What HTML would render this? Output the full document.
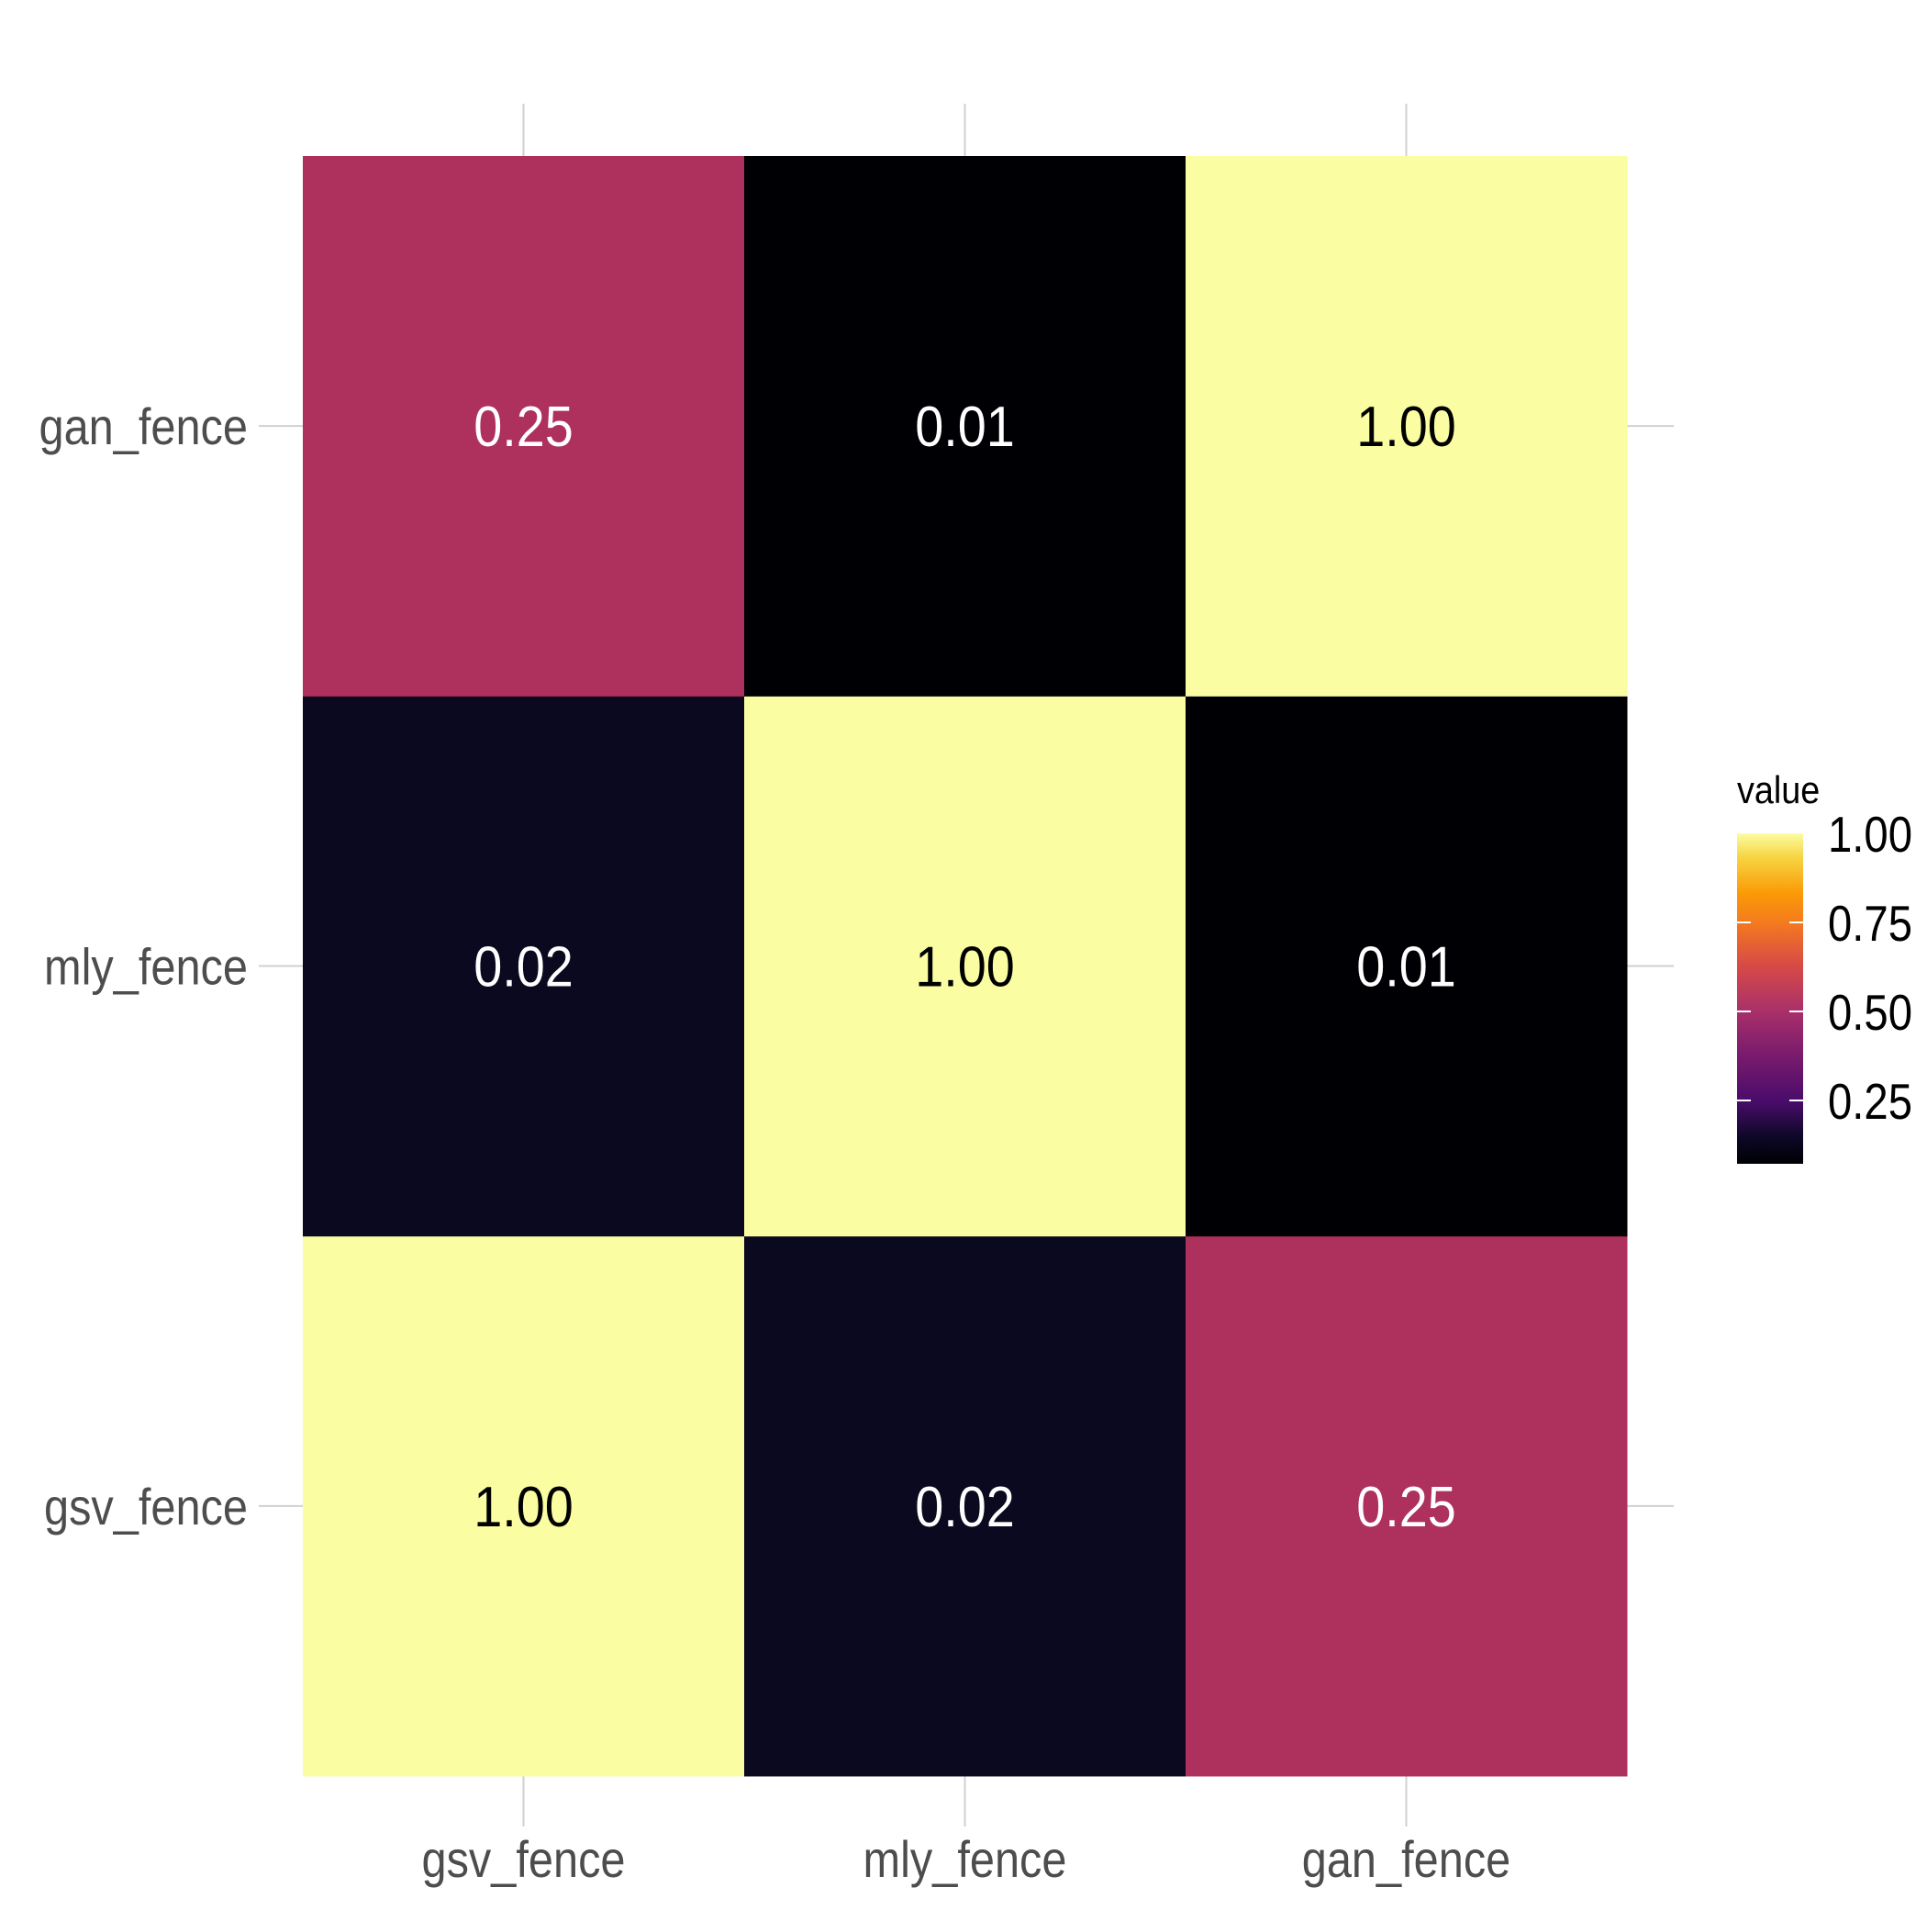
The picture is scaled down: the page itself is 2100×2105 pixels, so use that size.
<!DOCTYPE html>
<html><head><meta charset="utf-8"><style>
html,body{margin:0;padding:0;background:#fff;}
svg text{font-family:"Liberation Sans",sans-serif;}
</style></head><body>
<svg id="chart" width="2100" height="2100" viewBox="0 0 2100 2100" xmlns="http://www.w3.org/2000/svg">
<defs>
<linearGradient id="inferno" x1="0" y1="1" x2="0" y2="0">
<stop offset="0" stop-color="#000004"/>
<stop offset="0.08" stop-color="#0c0826"/>
<stop offset="0.19" stop-color="#4a0c6b"/>
<stop offset="0.33" stop-color="#7a1b6d"/>
<stop offset="0.46" stop-color="#a8306a"/>
<stop offset="0.6" stop-color="#d84a46"/>
<stop offset="0.73" stop-color="#f47a1e"/>
<stop offset="0.82" stop-color="#fb9b06"/>
<stop offset="0.93" stop-color="#f6d645"/>
<stop offset="1" stop-color="#fafda1"/>
</linearGradient>
</defs>
<g id="grid"></g>
<g id="cells"></g>
<g id="axes"></g>
<g id="legend"></g>
</svg>
<script>
const xCats = ["gsv_fence","mly_fence","gan_fence"];
const yCats = ["gsv_fence","mly_fence","gan_fence"]; // bottom to top
const values = [
  [1.00, 0.02, 0.25],
  [0.02, 1.00, 0.01],
  [0.25, 0.01, 1.00]
];
const labels = [
  ["1.00","0.02","0.25"],
  ["0.02","1.00","0.01"],
  ["0.25","0.01","1.00"]
];
const legendTicks = [0.25, 0.50, 0.75, 1.00];
const legendTickLabels = ["0.25","0.50","0.75","1.00"];

const NS="http://www.w3.org/2000/svg";
const PL=330, PR=1773, PT=170, PB=1935;
const cw=(PR-PL)/xCats.length, ch=(PB-PT)/yCats.length;
function xc(i){return PL+cw*(i+0.5);}
function yc(j){return PB-ch*(j+0.5);}
function mk(tag,attrs,parent){const e=document.createElementNS(NS,tag);for(const k in attrs)e.setAttribute(k,attrs[k]);parent.appendChild(e);return e;}
const stops=[[0,[0,0,4]],[0.01,[0,0,4]],[0.02,[11,9,32]],[0.25,[173,48,93]],[0.5,[201,62,76]],[0.75,[249,142,9]],[1,[250,253,161]]];
function color(v){
  for(let k=1;k<stops.length;k++){if(v<=stops[k][0]){const a=stops[k-1],b=stops[k];const t=(v-a[0])/(b[0]-a[0]||1);
    return "rgb("+a[1].map((c,i)=>Math.round(c+(b[1][i]-c)*t)).join(",")+")";}}
  return "rgb(250,253,161)";
}
const grid=document.getElementById('grid'),cells=document.getElementById('cells'),axes=document.getElementById('axes'),leg=document.getElementById('legend');
xCats.forEach((c,i)=>{const l=mk('line',{x1:xc(i),x2:xc(i),y1:113,y2:1990,stroke:'#d0d0d0','stroke-width':2},grid);

});
yCats.forEach((c,j)=>{const l=mk('line',{x1:282,x2:1824,y1:yc(j),y2:yc(j),stroke:'#d0d0d0','stroke-width':2},grid);

});
values.forEach((row,j)=>row.forEach((v,i)=>{
  const r=mk('rect',{x:PL+cw*i,y:PB-ch*(j+1),width:cw+0.5,height:ch+0.5,fill:color(v)},cells);
  
  
  const t=mk('text',{x:0,y:0,'font-size':62,'text-anchor':'middle',fill:v>0.6?'#000':'#fff',transform:`translate(${xc(i)},${yc(j)+22}) scale(0.9,1)`},cells);
  t.textContent=labels[j][i];
  
  
}));
xCats.forEach((c,i)=>{const t=mk('text',{x:0,y:0,'font-size':56,'text-anchor':'middle',fill:'#4d4d4d',transform:`translate(${xc(i)},2045) scale(0.87,1)`},axes);
t.textContent=c;

});
yCats.forEach((c,j)=>{const t=mk('text',{x:0,y:0,'font-size':56,'text-anchor':'end',fill:'#4d4d4d',transform:`translate(270,${yc(j)+20}) scale(0.87,1)`},axes);
t.textContent=c;

});
// legend
const LX=1893,LW=72,LT=908,LB=1268;
function ly(v){return LT+(1-v)*388;}
const tt=mk('text',{x:0,y:0,'font-size':42,fill:'#000',transform:`translate(${LX},875) scale(0.9,1)`},leg);
tt.textContent="value";


const bar=mk('rect',{x:LX,y:LT,width:LW,height:LB-LT,fill:'url(#inferno)'},leg);


legendTicks.forEach((v,k)=>{
  const y=ly(v);
  if(v<1){
    const a=mk('line',{x1:LX,x2:LX+15,y1:y,y2:y,stroke:'#fff','stroke-width':2},leg);
    
    
    const b=mk('line',{x1:LX+LW-15,x2:LX+LW,y1:y,y2:y,stroke:'#fff','stroke-width':2},leg);
    
    
  }
  const t=mk('text',{x:0,y:0,'font-size':55,fill:'#000',transform:`translate(1992,${y+20}) scale(0.86,1)`},leg);
  t.textContent=legendTickLabels[k];
  
  
});
</script>
</body></html>
